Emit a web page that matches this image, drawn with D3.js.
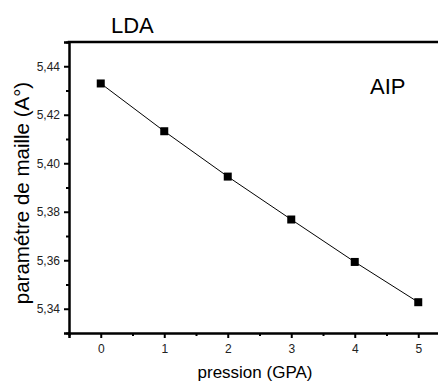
<!DOCTYPE html>
<html>
<head>
<meta charset="utf-8">
<script src="https://cdn.jsdelivr.net/npm/d3@7"></script>
<style>
  body { margin: 0; background: #fff; }
  svg { display: block; font-family: Arial, "Liberation Sans", sans-serif; }
</style>
</head>
<body>
<div id="chart"></div>
<script>
// data
const pressure = [0, 1, 2, 3, 4, 5];
const latticeParam = [5.4329, 5.4132, 5.3945, 5.3768, 5.3593, 5.3427];
const xTicks = [0, 1, 2, 3, 4, 5];
const yTicks = [5.34, 5.36, 5.38, 5.40, 5.42, 5.44];

const width = 438, height = 381;
const margin = {top: 42, right: -12, bottom: 48, left: 69};

const svg = d3.select("#chart").append("svg")
    .attr("width", width)
    .attr("height", height);

const x = d3.scaleLinear()
    .domain([-0.5, 5.5])
    .range([margin.left, width - margin.right]);

const y = d3.scaleLinear()
    .domain([5.33, 5.45])
    .range([height - margin.bottom, margin.top]);

const fmt = d => d3.format(".2f")(d).replace(".", ",");

// minor ticks first
svg.append("g")
    .attr("transform", `translate(0, ${y.range()[0]})`)
    .call(d3.axisBottom(x).tickValues(d3.range(-0.5, 5.6, 1)).tickSize(3).tickFormat(""))
    .call(g => g.select(".domain").remove())
    .selectAll("line").attr("stroke-width", 2);

svg.append("g")
    .attr("transform", `translate(${margin.left}, 0)`)
    .call(d3.axisLeft(y).tickValues(d3.range(5.33, 5.451, 0.02)).tickSize(3).tickFormat(""))
    .call(g => g.select(".domain").remove())
    .selectAll("line").attr("stroke-width", 2);

// x axis
svg.append("g")
    .attr("transform", `translate(0, ${y.range()[0]})`)
    .call(d3.axisBottom(x).tickValues(xTicks).tickSize(5).tickPadding(6).tickFormat(d3.format("d")))
    .call(g => g.select(".domain").attr("stroke-width", 2.5))
    .call(g => g.selectAll(".tick line").attr("stroke-width", 2))
    .call(g => g.selectAll(".tick text").attr("font-size", 12).attr("fill", "#222"));

// y axis
svg.append("g")
    .attr("transform", `translate(${margin.left}, 0)`)
    .call(d3.axisLeft(y).tickValues(yTicks).tickSize(5).tickPadding(4).tickFormat(fmt))
    .call(g => g.select(".domain").attr("stroke-width", 2.5))
    .call(g => g.selectAll(".tick line").attr("stroke-width", 2))
    .call(g => g.selectAll(".tick text").attr("font-size", 12).attr("fill", "#222"));

// top frame line
svg.append("line")
    .attr("x1", margin.left - 1.25)
    .attr("x2", width)
    .attr("y1", y.range()[1])
    .attr("y2", y.range()[1])
    .attr("stroke", "#000")
    .attr("stroke-width", 2.5);

// series line
const line = d3.line()
    .x((d, i) => x(pressure[i]))
    .y(d => y(d));

svg.append("path")
    .datum(latticeParam)
    .attr("fill", "none")
    .attr("stroke", "#000")
    .attr("stroke-width", 1)
    .attr("d", line);

// markers
svg.selectAll("rect.pt")
    .data(latticeParam)
    .join("rect")
      .attr("class", "pt")
      .attr("x", (d, i) => x(pressure[i]) - 4)
      .attr("y", d => y(d) - 4)
      .attr("width", 8)
      .attr("height", 8)
      .attr("fill", "#000");

// titles
svg.append("text")
    .attr("x", 111)
    .attr("y", 33)
    .attr("font-size", 22)
    .text("LDA");

svg.append("text")
    .attr("x", 370)
    .attr("y", 94)
    .attr("font-size", 22)
    .text("AIP");

svg.append("text")
    .attr("x", 255)
    .attr("y", 378)
    .attr("text-anchor", "middle")
    .attr("font-size", 17)
    .text("pression (GPA)");

svg.append("text")
    .attr("transform", "translate(29, 193) rotate(-90)")
    .attr("text-anchor", "middle")
    .attr("font-size", 20.5)
    .text("paramétre de maille (A°)");
</script>
</body>
</html>
